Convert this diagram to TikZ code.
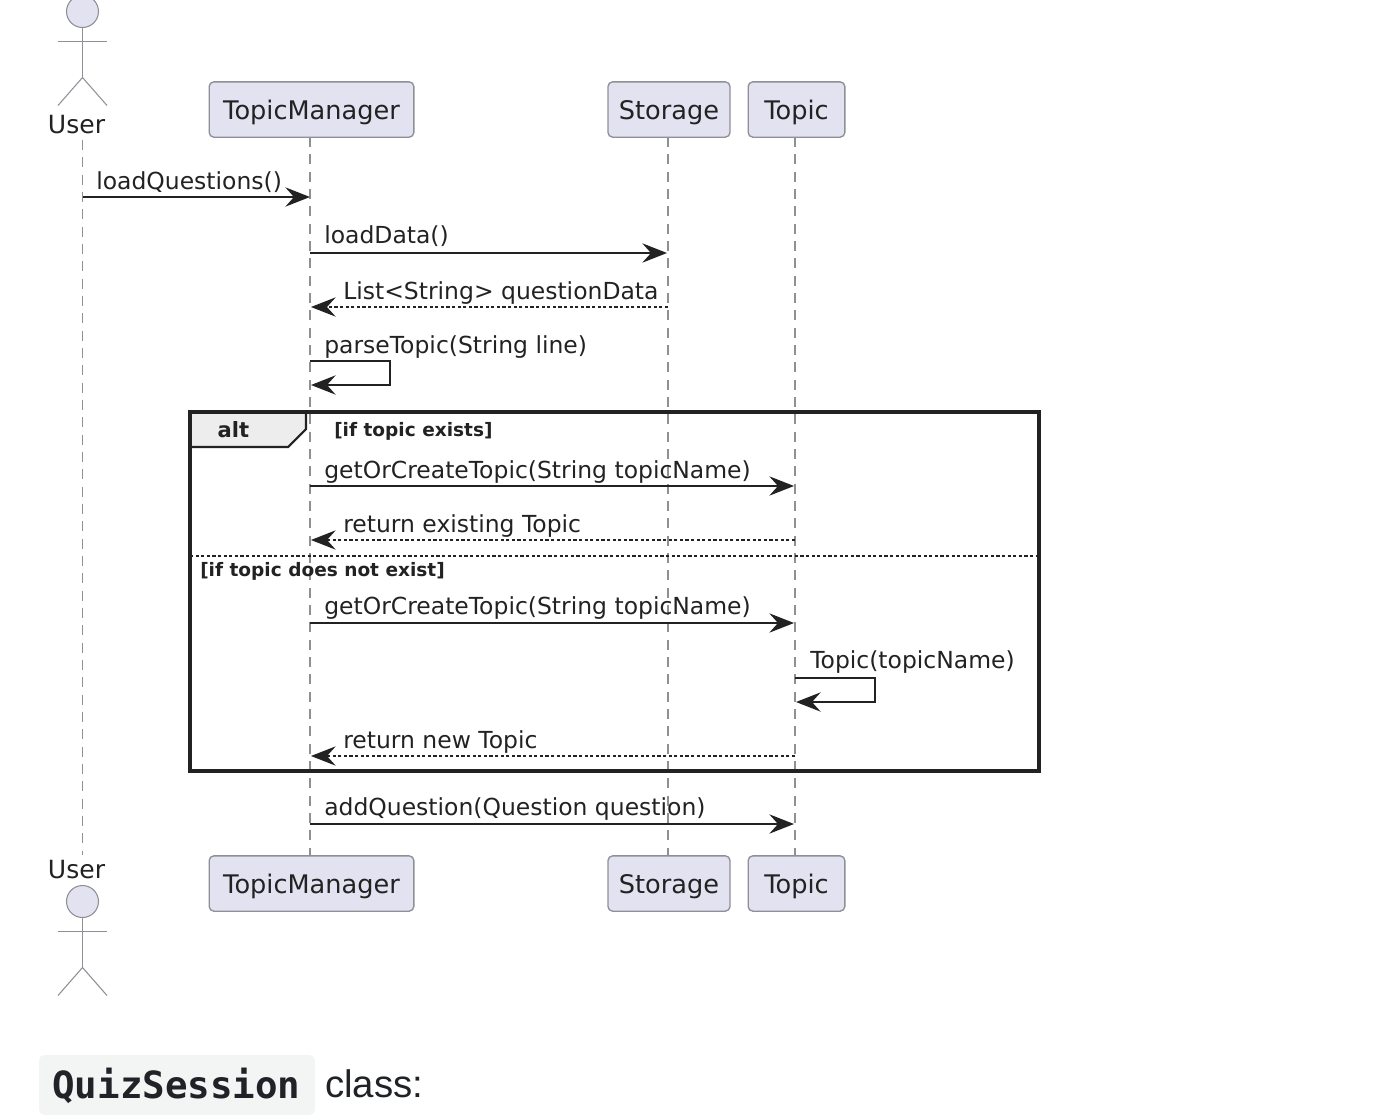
\documentclass[tikz,border=0pt]{standalone}
\usepackage{fontspec}
\setmainfont{DejaVu Sans}
\newfontfamily\monofont{DejaVu Sans Mono}
\newfontfamily\labelfont{Liberation Sans}
\usetikzlibrary{arrows.meta,positioning}
\definecolor{boxfill}{HTML}{E2E2F0}
\definecolor{boxline}{HTML}{8F8F98}
\definecolor{ink}{HTML}{222222}
\definecolor{codefill}{HTML}{F3F4F4}
\definecolor{codeink}{HTML}{1F2328}
\tikzstyle{lifebox}  = [rectangle, rounded corners=3.5pt, draw=boxline, fill=boxfill, line width=1pt, text=ink, inner sep=0pt, outer sep=0pt, minimum height=41.5pt, text height=16pt, text depth=1.4pt, font=\fontsize{19.2}{22}\selectfont]
\tikzstyle{lifeline} = [draw=boxline, line width=0.85pt, dash pattern=on 7.5pt off 5.5pt]
\tikzstyle{arrow}    = [draw=ink, line width=1.1pt, -{Stealth[length=18.5pt,width=14.5pt,inset=6.5pt]}]
\tikzstyle{retarrow} = [arrow, line width=0.8pt, dash pattern=on 2.4pt off 1.8pt]
\tikzstyle{msg}      = [anchor=base west, inner sep=0pt, text=ink, font=\fontsize{17.6}{20}\selectfont]
\tikzstyle{guard}    = [anchor=base west, inner sep=0pt, text=ink, font=\fontsize{13.9}{16}\selectfont\bfseries]
\tikzstyle{actor}    = [draw=boxline, line width=0.8pt]
\begin{document}
\begin{tikzpicture}[x=0.75pt, y=-0.75pt]
            \useasboundingbox (0,0) rectangle (1386,1118);
            \clip (0,0) rectangle (1386,1118);
            %Create head boxes
            \node (manager_top) [lifebox, minimum width=153.5pt] at (311.5,109.5)  {TopicManager};
            \node (storage_top) [lifebox, minimum width=91.5pt]  at (669,109.5)    {Storage};
            \node (topic_top)   [lifebox, minimum width=72.5pt]  at (796.5,109.5)  {Topic};
            \node (manager_end) [lifebox, minimum width=153.5pt] at (311.5,883.5)  {TopicManager};
            \node (storage_end) [lifebox, minimum width=91.5pt]  at (669,883.5)    {Storage};
            \node (topic_end)   [lifebox, minimum width=72.5pt]  at (796.5,883.5)  {Topic};
            \node (user_top)    [msg, anchor=center, font=\fontsize{18.8}{22}\selectfont] at (76.5,125) {User};
            \node (user_end)    [msg, anchor=center, font=\fontsize{18.8}{22}\selectfont] at (76.5,870) {User};
            %Life lines
            \coordinate (line_u1) at (82.5,140);
            \coordinate (line_u2) at (82.5,855);
            \coordinate (line_m1) at (310,137);
            \coordinate (line_m2) at (310,855);
            \coordinate (line_s1) at (668,137);
            \coordinate (line_s2) at (668,855);
            \coordinate (line_t1) at (795,137);
            \coordinate (line_t2) at (795,855);
            \draw [lifeline] (line_u1) -- (line_u2);
            \draw [lifeline] (line_m1) -- (line_m2);
            \draw [lifeline] (line_s1) -- (line_s2);
            \draw [lifeline] (line_t1) -- (line_t2);
            %Stick figures
            \foreach \name/\hy in {top/11.5, end/901.5} {
                \node (head_\name) [circle, draw=boxline, fill=boxfill, line width=0.8pt, minimum size=24pt, inner sep=0pt, outer sep=0pt] at (82.5,\hy) {};
                \draw [actor] (head_\name.south) -- ++(0,50) coordinate (hip_\name);
                \draw [actor] (58,\hy+30) -- (107,\hy+30);
                \draw [actor] (58,\hy+94) -- (hip_\name) -- (107,\hy+94);
            }
            %Alt frame
            \node (alt_frame) [outer sep=0pt, inner sep=0pt, minimum width=636.75pt, minimum height=269.25pt] at (614.5,591.5) {};
            \coordinate (tab_1) at (alt_frame.north west);
            \coordinate (tab_2) at (306,412);
            \coordinate (tab_3) at (306,429);
            \coordinate (tab_4) at (288,447);
            \coordinate (tab_5) at (190,447);
            \draw [draw=ink, line width=1.6pt, fill=black!7] (tab_1) -- (tab_2) -- (tab_3) -- (tab_4) -- (tab_5) -- cycle;
            \draw [draw=ink, line width=2.3pt] (alt_frame.north west) rectangle (alt_frame.south east);
            \node (alt_name) [guard, anchor=center, font=\fontsize{15.8}{18}\selectfont\bfseries] at (233.5,430) {alt};
            \node (guard_1)  [guard] at (334,436) {[if topic exists]};
            \node (guard_2)  [guard] at (200,576) {[if topic does not exist]};
            \coordinate (split_1) at (190,556);
            \coordinate (split_2) at (1039,556);
            \draw [draw=ink, line width=0.8pt, dash pattern=on 2.4pt off 1.8pt] (split_1) -- (split_2);
            %Message end points
            \coordinate (load_a) at (82.5,197);  \coordinate (load_b) at (310,197);
            \coordinate (data_a) at (310,253);   \coordinate (data_b) at (667,253);
            \coordinate (list_a) at (668,307);   \coordinate (list_b) at (311,307);
            \coordinate (find_a) at (310,486);   \coordinate (find_b) at (794,486);
            \coordinate (have_a) at (795,540);   \coordinate (have_b) at (311,540);
            \coordinate (make_a) at (310,623);   \coordinate (make_b) at (794,623);
            \coordinate (back_a) at (795,756);   \coordinate (back_b) at (311,756);
            \coordinate (add_a)  at (310,824);   \coordinate (add_b)  at (794,824);
            \coordinate (self_a) at (310,361);   \coordinate (self_b) at (390,385);  \coordinate (self_c) at (311,385);
            \coordinate (ctor_a) at (795,678);   \coordinate (ctor_b) at (875,702);  \coordinate (ctor_c) at (796,702);
            %Connect messages
            \draw [arrow]    (load_a) -- (load_b);
            \draw [arrow]    (data_a) -- (data_b);
            \draw [retarrow] (list_a) -- (list_b);
            \draw [arrow]    (self_a) -| (self_b) -- (self_c);
            \draw [arrow]    (find_a) -- (find_b);
            \draw [retarrow] (have_a) -- (have_b);
            \draw [arrow]    (make_a) -- (make_b);
            \draw [arrow]    (ctor_a) -| (ctor_b) -- (ctor_c);
            \draw [retarrow] (back_a) -- (back_b);
            \draw [arrow]    (add_a)  -- (add_b);
            %Message labels
            \node (load_text) [msg] at (96,189)   {loadQuestions()};
            \node (data_text) [msg] at (324,243)  {loadData()};
            \node (list_text) [msg] at (343,299)  {List<String> questionData};
            \node (self_text) [msg] at (324,353)  {parseTopic(String line)};
            \node (find_text) [msg] at (324,478)  {getOrCreateTopic(String topicName)};
            \node (have_text) [msg] at (343,532)  {return existing Topic};
            \node (make_text) [msg] at (324,614)  {getOrCreateTopic(String topicName)};
            \node (ctor_text) [msg] at (810,668)  {Topic(topicName)};
            \node (back_text) [msg] at (343,748)  {return new Topic};
            \node (add_text)  [msg] at (324,815)  {addQuestion(Question question)};
            %Line under the diagram
            \node (code_box) [rectangle, rounded corners=4pt, fill=codefill, minimum width=207pt, minimum height=45pt, inner sep=0pt, outer sep=0pt] at (177,1085) {};
            \node (code_text) [anchor=base, inner sep=0pt, text=codeink, font=\fontsize{28.1}{32}\monofont\bfseries] at (176.5,1098) {QuizSession};
            \node (class_text) [anchor=base west, inner sep=0pt, text=codeink, font=\fontsize{28.8}{32}\labelfont] at (325,1097) {class:};
\end{tikzpicture}
\end{document}
